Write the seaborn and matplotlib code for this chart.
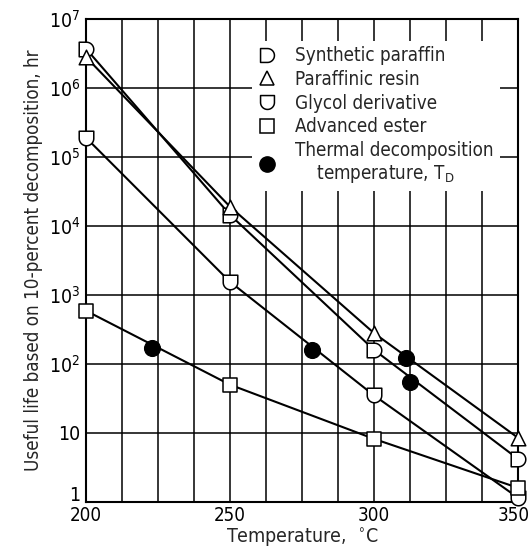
import numpy as np
import pandas as pd
import matplotlib
matplotlib.use("Agg")
import matplotlib.pyplot as plt
import matplotlib.transforms as mtrans
import seaborn as sns
from matplotlib.path import Path
from matplotlib.lines import Line2D
from matplotlib.ticker import FixedLocator, NullLocator

# ---- data ----
temps = [200, 250, 300, 350]
synthetic_paraffin = [3.7e6, 1.45e4, 160, 4.2]
paraffinic_resin = [2.8e6, 1.9e4, 280, 8.5]
glycol_derivative = [1.9e5, 1.55e3, 35, 1.15]
advanced_ester = [590, 50, 8.2, 1.6]
td_temps = [223, 278.5, 311, 312.5]
td_life = [170, 160, 122, 55]

x_ticks = [200, 250, 300, 350]
y_ticks = [1, 10, 1e2, 1e3, 1e4, 1e5, 1e6, 1e7]
y_tick_labels = ["1", "10", "$10^2$", "$10^3$", "$10^4$", "$10^5$", "$10^6$", "$10^7$"]
series_names = ["Synthetic paraffin", "Paraffinic resin", "Glycol derivative", "Advanced ester"]

# ---- style ----
sns.set_style("white")
plt.rcParams["font.family"] = ["DejaVu Sans"]
plt.rcParams["font.stretch"] = "condensed"
plt.rcParams["mathtext.fontset"] = "custom"
plt.rcParams["mathtext.rm"] = "DejaVu Sans:stretch=condensed"
plt.rcParams["mathtext.default"] = "rm"

# custom markers
t = np.linspace(-np.pi / 2, np.pi / 2, 25)
d_verts = [(-1, -1)] + [(np.cos(a), np.sin(a)) for a in t] + [(-1, 1), (-1, -1)]
D_MARK = Path(d_verts, closed=True)
t2 = np.linspace(0, -np.pi, 25)
u_verts = [(-1, 1), (1, 1)] + [(np.cos(a), np.sin(a)) for a in t2] + [(-1, 1)]
U_MARK = Path(u_verts, closed=True)
markers = [D_MARK, "^", U_MARK, "s"]

fig = plt.figure(figsize=(5.31, 5.54), dpi=100)
ax = fig.add_axes([0.162, 0.094, 0.8135, 0.8718])

data = {
    "Synthetic paraffin": synthetic_paraffin,
    "Paraffinic resin": paraffinic_resin,
    "Glycol derivative": glycol_derivative,
    "Advanced ester": advanced_ester,
}

for name, mk in zip(series_names, markers):
    df = pd.DataFrame({"T": temps, "life": data[name]})
    sns.lineplot(data=df, x="T", y="life", ax=ax, color="black", lw=1.5, zorder=3)
    sns.scatterplot(data=df, x="T", y="life", ax=ax, marker=mk, s=110,
                    facecolor="white", edgecolor="black", linewidth=1.1, zorder=4,
                    clip_on=False)

df_td = pd.DataFrame({"T": td_temps, "life": td_life})
sns.scatterplot(data=df_td, x="T", y="life", ax=ax, marker="o", s=130,
                color="black", edgecolor="black", zorder=5)

ax.set_yscale("log")
ax.set_xlim(200, 350)
ax.set_ylim(1, 1e7)

# grid
for yv in y_ticks[1:-1]:
    ax.axhline(yv, color="black", lw=1.1, zorder=1)
for xv in np.arange(212.5, 350, 12.5):
    ax.axvline(xv, color="black", lw=1.1, zorder=1)

ax.xaxis.set_major_locator(FixedLocator(x_ticks))
ax.set_xticklabels([str(v) for v in x_ticks])
ax.yaxis.set_major_locator(FixedLocator(y_ticks))
ax.yaxis.set_minor_locator(NullLocator())
ax.set_yticklabels(y_tick_labels)
ax.tick_params(axis="y", length=0, labelsize=14, pad=4, colors="black")
ax.tick_params(axis="x", length=0, labelsize=13.5, pad=3, colors="black")

# nudge the "1" label upward so it sits above "200" as in the reference
ylab0 = ax.get_yticklabels()[0]
ylab0.set_transform(ylab0.get_transform() + mtrans.ScaledTranslation(0, 6 / 72, fig.dpi_scale_trans))
# keep "350" inside the figure
xlab_last = ax.get_xticklabels()[-1]
xlab_last.set_transform(xlab_last.get_transform() + mtrans.ScaledTranslation(-3 / 72, 0, fig.dpi_scale_trans))

for s in ax.spines.values():
    s.set_color("black")
    s.set_linewidth(1.5)

ax.set_xlabel("Temperature,  $^{\\circ}$C", fontsize=14, labelpad=1)
ax.set_ylabel("Useful life based on 10-percent decomposition, hr", fontsize=13.5, labelpad=4)

handles = [Line2D([], [], ls="none", marker=mk, markersize=10, markerfacecolor="white",
                  markeredgecolor="black", markeredgewidth=1.1) for mk in markers]
handles.append(Line2D([], [], ls="none", marker="o", markersize=11,
                      markerfacecolor="black", markeredgecolor="black"))
labels = series_names + ["Thermal decomposition\n    temperature, T$_\\mathrm{D}$"]
leg = ax.legend(handles, labels, loc="upper left", bbox_to_anchor=(0.385, 0.955),
                frameon=True, fontsize=13.5, handlelength=1.0, handletextpad=1.0,
                labelspacing=0.25, borderpad=0.3, borderaxespad=0)
leg.get_frame().set_edgecolor("none")
leg.get_frame().set_facecolor("white")
leg.get_frame().set_alpha(1)
leg.set_zorder(6)

fig.savefig("out.png", dpi=100)
